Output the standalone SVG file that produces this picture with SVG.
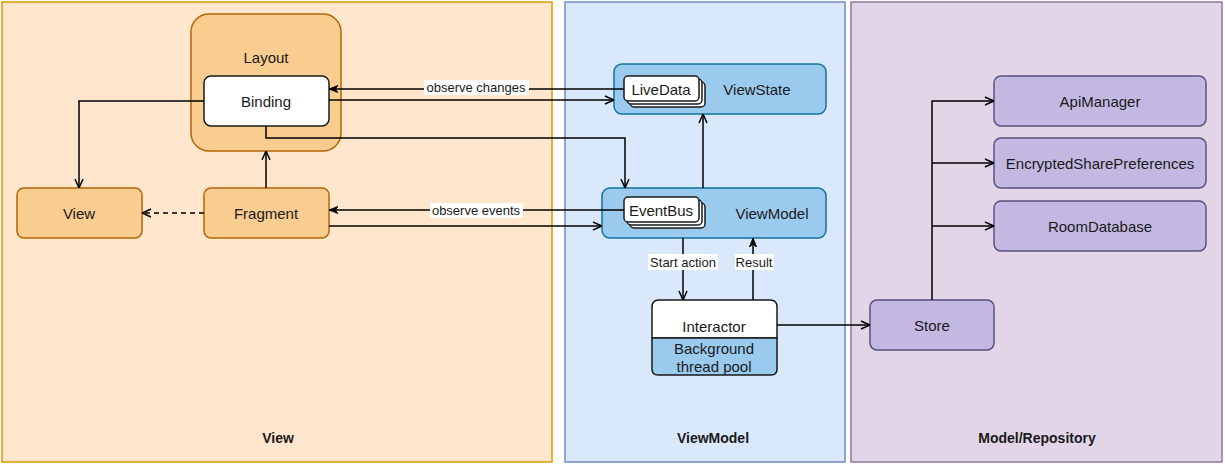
<svg xmlns="http://www.w3.org/2000/svg" width="1225" height="464" viewBox="0 0 1225 464">
<defs>
<style>
text{font-family:"Liberation Sans",Arial,sans-serif;font-size:15px;fill:#1a1a1a;text-anchor:middle;dominant-baseline:central}
.lbl{font-weight:bold;font-size:14px}
.el-t{font-size:13px}
.pv{fill:#ffe6cc;stroke:#d79b00;stroke-width:1.5}
.pvm{fill:#dae8fc;stroke:#6c8ebf;stroke-width:1.5}
.pm{fill:#e1d5e7;stroke:#9673a6;stroke-width:1.5}
.or{fill:#f9cc8f;stroke:#b46504;stroke-width:1.5}
.wh{fill:#ffffff;stroke:#1a1a1a;stroke-width:1.5}
.bl{fill:#9acbef;stroke:#10739e;stroke-width:1.5}
.pu{fill:#c3b8e1;stroke:#56517e;stroke-width:1.5}
.c{fill:none;stroke:#000;stroke-width:1.5}
.el{fill:#fff;stroke:none}
</style>
<marker id="open" viewBox="0 0 10 10" refX="10" refY="5" markerWidth="10" markerHeight="10" markerUnits="userSpaceOnUse" orient="auto">
<path d="M1,1 L10,5 L1,9" fill="none" stroke="#000" stroke-width="1.5"/>
</marker>
<marker id="block" viewBox="0 0 10 10" refX="10" refY="5" markerWidth="9" markerHeight="9" markerUnits="userSpaceOnUse" orient="auto">
<path d="M0,1 L10,5 L0,9 L3,5 Z" fill="#000" stroke="#000" stroke-width="1"/>
</marker>
</defs>

<g id="panels">
<rect class="pv" x="2" y="2" width="550" height="460"/>
<text class="lbl" x="278" y="438">View</text>
<rect class="pvm" x="565" y="2" width="280" height="460"/>
<text class="lbl" x="713" y="438">ViewModel</text>
<rect class="pm" x="851" y="2" width="371" height="460"/>
<text class="lbl" x="1037" y="438">Model/Repository</text>
</g>

<g id="layout">
<rect class="or" x="191" y="14" width="150" height="137" rx="18"/>
<text x="266" y="57">Layout</text>
</g>
<g id="binding">
<rect class="wh" x="204" y="76" width="125" height="50" rx="7"/>
<text x="266" y="101">Binding</text>
</g>
<g id="view">
<rect class="or" x="17" y="188" width="125" height="50" rx="7"/>
<text x="79" y="213">View</text>
</g>
<g id="fragment">
<rect class="or" x="204" y="188" width="125" height="50" rx="7"/>
<text x="266" y="213">Fragment</text>
</g>

<g id="viewstate">
<rect class="bl" x="614" y="64" width="212" height="50" rx="8"/>
<text x="757" y="89">ViewState</text>
</g>
<g id="livedata">
<rect class="wh" x="630" y="82" width="75" height="25" rx="4"/>
<rect class="wh" x="627" y="79" width="75" height="25" rx="4"/>
<rect class="wh" x="624" y="76" width="75" height="25" rx="4"/>
<text x="661" y="89">LiveData</text>
</g>
<g id="viewmodel">
<rect class="bl" x="602" y="188" width="224" height="50" rx="8"/>
<text x="772" y="213">ViewModel</text>
</g>
<g id="eventbus">
<rect class="wh" x="630" y="203" width="75" height="25" rx="4"/>
<rect class="wh" x="627" y="200" width="75" height="25" rx="4"/>
<rect class="wh" x="624" y="197" width="75" height="25" rx="4"/>
<text x="661" y="210">EventBus</text>
</g>
<g id="interactor">
<path class="wh" d="M652,338 V307 Q652,300 659,300 H770 Q777,300 777,307 V338 Z"/>
<path class="bl" d="M652,338 H777 V369 Q777,375 771,375 H658 Q652,375 652,369 Z" style="stroke:#1a1a1a"/>
<text x="714" y="326">Interactor</text>
<text x="714" y="348">Background</text>
<text x="714" y="366">thread pool</text>
</g>

<g id="store">
<rect class="pu" x="870" y="300" width="124" height="50" rx="7"/>
<text x="932" y="325">Store</text>
</g>
<g id="apimanager">
<rect class="pu" x="994" y="76" width="212" height="50" rx="7"/>
<text x="1100" y="101">ApiManager</text>
</g>
<g id="encrypted">
<rect class="pu" x="994" y="138" width="212" height="50" rx="7"/>
<text x="1100" y="163">EncryptedSharePreferences</text>
</g>
<g id="roomdb">
<rect class="pu" x="994" y="201" width="212" height="50" rx="7"/>
<text x="1100" y="226">RoomDatabase</text>
</g>

<g id="connectors">
<path class="c" d="M204,101 H79 V188" marker-end="url(#open)"/>
<path class="c" d="M624,89 H329" marker-end="url(#block)"/>
<rect class="el" x="424" y="80" width="105" height="15"/>
<text class="el-t" x="476" y="87">observe changes</text>
<path class="c" d="M329,100 H614" marker-end="url(#open)"/>
<path class="c" d="M266,126 V138 H625 V188" marker-end="url(#open)"/>
<path class="c" d="M266,188 V151" marker-end="url(#open)"/>
<path class="c" d="M204,213 H142" stroke-dasharray="5,4" marker-end="url(#open)"/>
<path class="c" d="M624,210 H329" marker-end="url(#block)"/>
<rect class="el" x="430" y="203" width="93" height="15"/>
<text class="el-t" x="476" y="210">observe events</text>
<path class="c" d="M329,226 H602" marker-end="url(#open)"/>
<path class="c" d="M703,188 V114" marker-end="url(#open)"/>
<path class="c" d="M683,238 V300" marker-end="url(#open)"/>
<rect class="el" x="648" y="254" width="70" height="16"/>
<text class="el-t" x="683" y="262">Start action</text>
<path class="c" d="M753,300 V238" marker-end="url(#block)"/>
<rect class="el" x="735" y="254" width="39" height="16"/>
<text class="el-t" x="754" y="262">Result</text>
<path class="c" d="M777,325 H870" marker-end="url(#open)"/>
<path class="c" d="M932,300 V101 H994" marker-end="url(#open)"/>
<path class="c" d="M932,163 H994" marker-end="url(#open)"/>
<path class="c" d="M932,226 H994" marker-end="url(#open)"/>
</g>
</svg>
